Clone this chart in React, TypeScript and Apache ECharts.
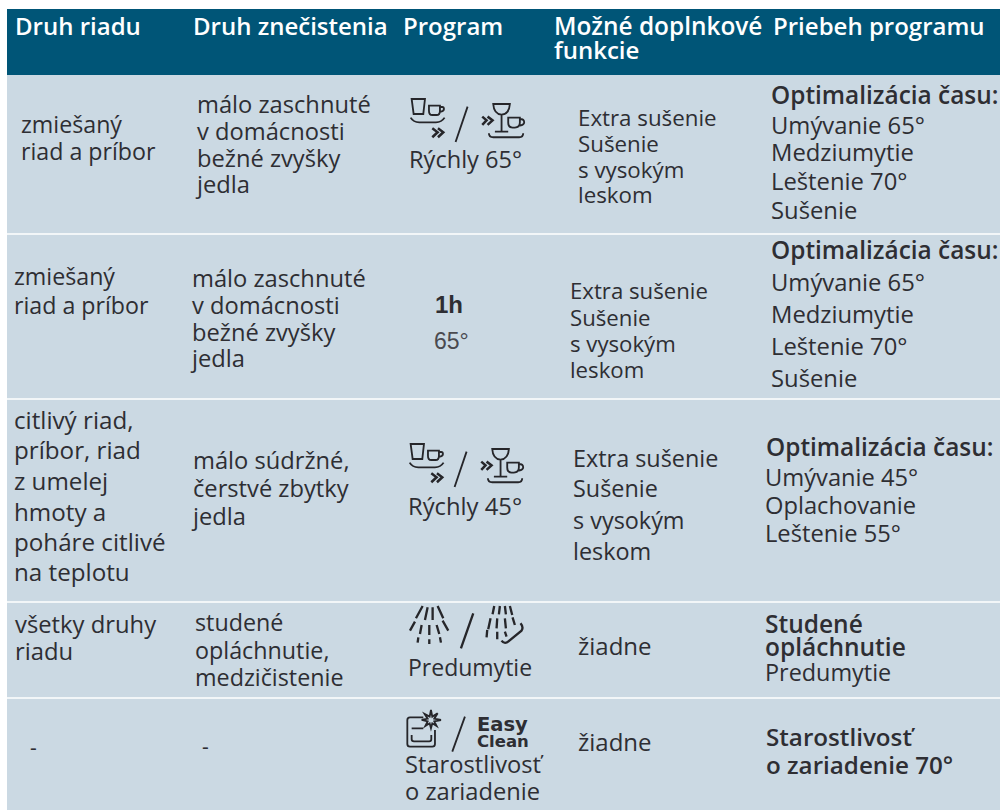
import React, { useEffect, useRef } from "react";
import * as echarts from "echarts";

const headers = ["Druh riadu", "Druh znečistenia", "Program", "Možné doplnkové", "funkcie", "Priebeh programu"];
const riad = [
  ["zmiešaný", "riad a príbor"],
  ["zmiešaný", "riad a príbor"],
  ["citlivý riad,", "príbor, riad", "z umelej", "hmoty a", "poháre citlivé", "na teplotu"],
  ["všetky druhy", "riadu"],
  ["-"],
];
const znecistenie = [
  ["málo zaschnuté", "v domácnosti", "bežné zvyšky", "jedla"],
  ["málo zaschnuté", "v domácnosti", "bežné zvyšky", "jedla"],
  ["málo súdržné,", "čerstvé zbytky", "jedla"],
  ["studené", "opláchnutie,", "medzičistenie"],
  ["-"],
];
const program = [
  ["Rýchly 65°"],
  [],
  ["Rýchly 45°"],
  ["Predumytie"],
  ["Starostlivosť", "o zariadenie"],
];
const funkcie = [
  ["Extra sušenie", "Sušenie", "s vysokým", "leskom"],
  ["Extra sušenie", "Sušenie", "s vysokým", "leskom"],
  ["Extra sušenie", "Sušenie", "s vysokým", "leskom"],
  ["žiadne"],
  ["žiadne"],
];
const priebehBold = [
  ["Optimalizácia času:"],
  ["Optimalizácia času:"],
  ["Optimalizácia času:"],
  ["Studené", "opláchnutie"],
  ["Starostlivosť", "o zariadenie 70°"],
];
const priebeh = [
  ["Umývanie 65°", "Medziumytie", "Leštenie 70°", "Sušenie"],
  ["Umývanie 65°", "Medziumytie", "Leštenie 70°", "Sušenie"],
  ["Umývanie 45°", "Oplachovanie", "Leštenie 55°"],
  ["Predumytie"],
  [],
];
const oneHour = ["1h", "65°"];
const easyClean = ["Easy", "Clean"];

// layout, kept apart from the texts
const layout = {
  riad: { s: [23.2, 23.2, 24.2, 23.8, 21], x: [21, 14, 14, 15, 30], y: [[125, 152], [277, 306], [420, 450, 481, 512, 542, 572], [625, 652], [748]] },
  znec: { s: [23.7, 23.7, 23.7, 23.3, 21], x: [197, 192, 193, 195, 202], y: [[105, 132, 159, 185], [279, 306, 333, 359], [461, 489, 517], [623, 651, 678], [747]] },
  prog: { s: [23.6, 21, 23.8, 23, 23.7], x: [409, 435, 408, 408, 405], y: [[160], [342], [507], [668], [765, 792]] },
  funk: { s: [22.3, 22.2, 23.4, 24, 24], x: [578, 570, 573, 578, 578], y: [[118, 144, 170, 195], [291, 318, 344, 370], [459, 489, 521, 552], [646], [742]] },
  bold: { s: [24.4, 24.4, 24.4, 24.5, 24.2], x: [771, 771, 766, 765, 766], y: [[95], [250], [447], [624, 647], [737, 765]] },
  prie: { s: [23.8, 23.8, 23.7, 23.4, 23.4], x: [771, 771, 765, 765, 766], y: [[126, 153, 182, 211], [283, 315, 347, 379], [478, 506, 534], [673], []] },
};

const ICON_DISHES =
  "M65 57H105L100 102H71Z M117 77H150V92Q150 105 140 105H127Q117 105 117 92Z M150 81H157Q162 81 162 87Q162 94 150 96 M62 113Q70 127 88 127H138Q155 127 164 113 M233 80L197 186 M310 72H360Q358 102 335 104Q312 102 310 72Z M335 104V155 M315 155H355 M355 113H390V128Q390 143 375 143H368Q355 143 355 128Z M390 117Q403 117 403 127Q403 135 390 137 M297 160Q297 172 310 172H388Q400 172 400 160";
const ICON_CHEVRONS =
  "M127 145L143 157L127 172 M144 145L160 157L144 172 M277 110L290 121L277 135 M293 110L308 121L293 135";
const ICON_SPRAY =
  "M98 18L78 55 M113 22L105 60 M128 22V60 M143 18L160 55 M75 65L60 92 M95 75L90 102 M118 75V105 M140 75L148 102 M158 62L175 92 M85 112L83 128 M118 118V132 M150 112L153 128 M313 18L308 43 M330 18L327 43 M345 18L348 43 M360 18L367 45 M302 55L295 88 M322 55L320 85 M345 55L348 85 M368 52L375 75 M292 90L290 112 M322 95V118 M345 95L350 110 M335 122Q342 132 352 127L395 92Q402 82 392 70 M250 40L213 145";
const ICON_OVEN =
  "M70 52H30Q22 52 22 60V132Q22 140 30 140H97Q105 140 105 132V90 M35 85H70 M35 105V118Q35 124 42 124H88Q94 124 94 118V105 M93 30L97 50L113 40L103 56L123 60L103 64L110 78L97 70L93 85L89 70L76 78L83 64L65 60L83 56L74 42L89 50Z M195 50L157 155";

echarts.graphic.registerShape("iconDishes", echarts.graphic.extendPath(ICON_DISHES, {}));
echarts.graphic.registerShape("iconChevrons", echarts.graphic.extendPath(ICON_CHEVRONS, {}));
echarts.graphic.registerShape("iconSpray", echarts.graphic.extendPath(ICON_SPRAY, {}));
echarts.graphic.registerShape("iconOven", echarts.graphic.extendPath(ICON_OVEN, {}));

const FONT = "'Open Sans', 'Noto Sans', sans-serif";
const TEXT = "#2e2e33";

function text(t: string, x: number, y: number, opts: any = {}) {
  return {
    type: "text",
    x,
    y: y - 1,
    silent: true,
    style: {
      text: t,
      fill: TEXT,
      fontFamily: FONT,
      fontSize: 21,
      verticalAlign: "middle",
      align: "left",
      ...opts,
    },
  };
}

function column(lines: string[][], l: { s: number[]; x: number[]; y: number[][] }, opts: any = {}) {
  const out: any[] = [];
  lines.forEach((row, r) => row.forEach((t, i) => out.push(text(t, l.x[r], l.y[r][i], { fontSize: l.s[r], ...opts }))));
  return out;
}

function icon(shape: string, x: number, y: number, lineWidth = 5.5) {
  return {
    type: shape,
    x,
    y,
    scaleX: 1 / 3,
    scaleY: 1 / 3,
    silent: true,
    style: { fill: "none", stroke: "#26262a", lineWidth, lineCap: "butt", lineJoin: "miter" },
  };
}

export default function App() {
  const ref = useRef<HTMLDivElement>(null);
  useEffect(() => {
    const chart = echarts.init(ref.current!, null, { renderer: "svg" });
    const head = { fill: "#ffffff", fontWeight: 600, fontSize: 24 };
    const bands = [233, 398, 601, 697];
    chart.setOption({
      animation: false,
      backgroundColor: "#ffffff",
      graphic: {
        elements: [
          { type: "rect", x: 7, y: 9, silent: true, shape: { width: 993, height: 66 }, style: { fill: "#005577" } },
          { type: "rect", x: 7, y: 75, silent: true, shape: { width: 993, height: 735 }, style: { fill: "#cbd9e3" } },
          ...bands.map((y) => ({
            type: "rect",
            x: 7,
            y,
            silent: true,
            shape: { width: 993, height: 2 },
            style: { fill: "#f2f6f8" },
          })),
          text(headers[0], 15, 26, head),
          text(headers[1], 193, 26, head),
          text(headers[2], 403, 26, head),
          text(headers[3], 554, 26, { ...head, fontSize: 24.4 }),
          text(headers[4], 554, 50, head),
          text(headers[5], 773, 26, head),
          ...column(riad, layout.riad),
          ...column(znecistenie, layout.znec),
          ...column(program, layout.prog),
          ...column(funkcie, layout.funk),
          ...column(priebehBold, layout.bold, { fontWeight: 600 }),
          ...column(priebeh, layout.prie),
          text(oneHour[0], 435, 305, { fontFamily: "'Liberation Sans'", fontWeight: 700, fontSize: 24 }),
          text(oneHour[1], 434, 342, { fontFamily: "'Liberation Sans'", fontSize: 23, fill: "#4a4a4f" }),
          icon("iconDishes", 390, 80),
          icon("iconChevrons", 390, 80, 7.5),
          icon("iconDishes", 389, 425),
          icon("iconChevrons", 389, 425, 7.5),
          icon("iconSpray", 390, 600, 7),
          icon("iconOven", 400, 700, 5.5),
          text(easyClean[0], 477, 725, { fontFamily: "'DejaVu Sans'", fontWeight: 700, fontSize: 19.5 }),
          text(easyClean[1], 477, 742, { fontFamily: "'DejaVu Sans'", fontWeight: 700, fontSize: 16.5 }),
        ],
      },
    });
    return () => chart.dispose();
  }, []);
  return <div ref={ref} style={{ position: "fixed", left: 0, top: 0, width: 1000, height: 810, overflow: "hidden" }} />;
}
